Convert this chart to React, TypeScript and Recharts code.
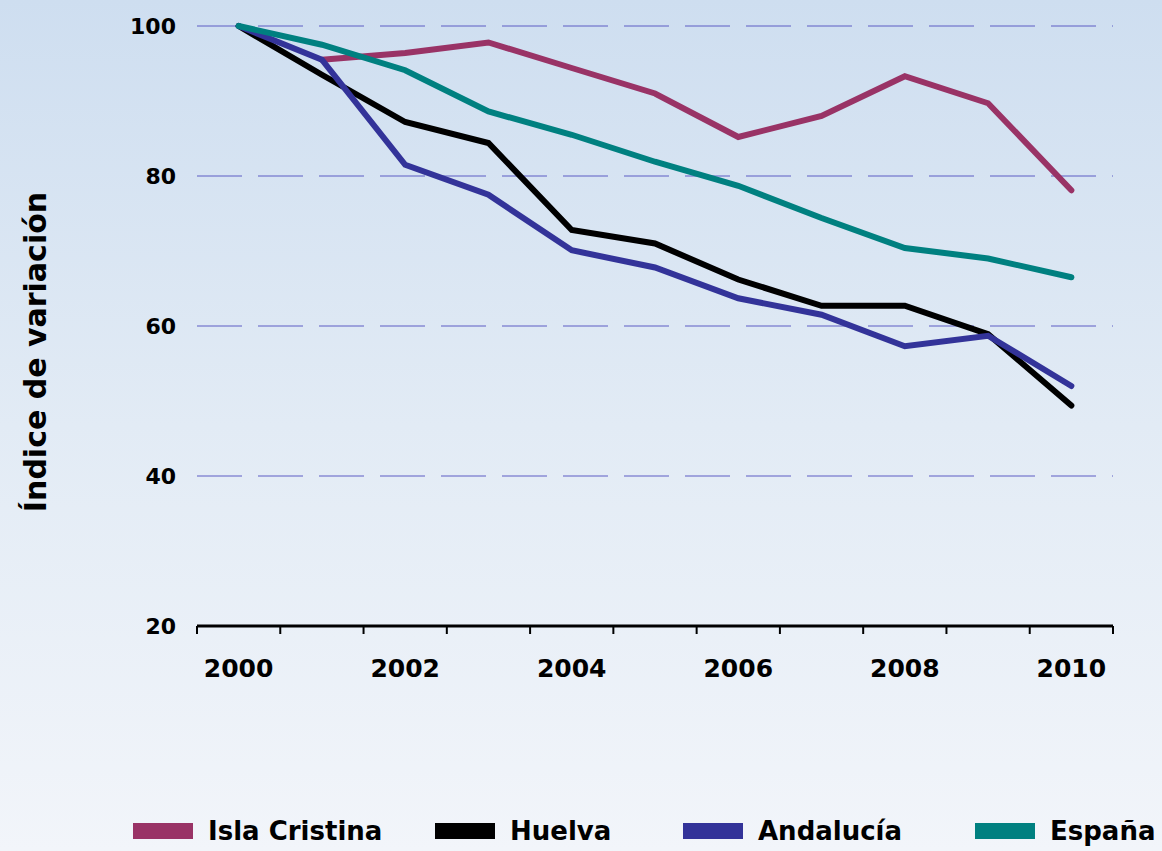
import { LineChart, Line, XAxis, YAxis, CartesianGrid, Legend } from "recharts";

const years = [2000, 2001, 2002, 2003, 2004, 2005, 2006, 2007, 2008, 2009, 2010];
const islaCristina = [null, 95.5, 96.4, 97.8, 94.4, 91.0, 85.2, 88.0, 93.3, 89.7, 78.1];
const huelva = [100, 93.5, 87.2, 84.4, 72.8, 71.0, 66.2, 62.7, 62.7, 58.9, 49.4];
const andalucia = [100, 95.5, 81.5, 77.5, 70.1, 67.8, 63.7, 61.5, 57.3, 58.7, 52.0];
const espana = [100, 97.5, 94.1, 88.6, 85.5, 81.9, 78.7, 74.4, 70.4, 69.0, 66.5];

const yTicks = [20, 40, 60, 80, 100];
const labelYears = [2000, 2002, 2004, 2006, 2008, 2010];
const boundaryTicks = [...years.map((y) => y - 0.5), 2010.5];

const series = [
  { key: "isla", name: "Isla Cristina", color: "#993366", values: islaCristina },
  { key: "huelva", name: "Huelva", color: "#000000", values: huelva },
  { key: "andalucia", name: "Andalucía", color: "#333399", values: andalucia },
  { key: "espana", name: "España", color: "#008080", values: espana },
];

const data = years.map((year, i) => {
  const row: Record<string, number | null> = { year };
  series.forEach((s) => (row[s.key] = s.values[i]));
  return row;
});

const font = "'DejaVu Sans', sans-serif";
const legendWidths = [302, 248, 292, 187];

function ChartLegend() {
  return (
    <div style={{ display: "flex", paddingLeft: 133, height: 40, alignItems: "center", width: 1162, boxSizing: "border-box" }}>
      {series.map((s, i) => (
        <div key={s.key} style={{ width: legendWidths[i], flexShrink: 0, display: "flex", alignItems: "center" }}>
          <span style={{ width: 60, height: 16, background: s.color, display: "inline-block", marginRight: 15, flexShrink: 0 }} />
          <span style={{ fontFamily: font, fontWeight: "bold", fontSize: 26, color: "#000", whiteSpace: "nowrap" }}>
            {s.name}
          </span>
        </div>
      ))}
    </div>
  );
}

export default function App() {
  return (
    <div
      style={{
        position: "absolute",
        left: 0,
        top: 0,
        width: 1162,
        height: 851,
        overflow: "hidden",
        background: "linear-gradient(to bottom, #cedef0 0%, #e2ebf5 50%, #f2f5fa 100%)",
      }}
    >
      <LineChart width={1162} height={851} data={data} margin={{ top: 26, right: 49, left: 0, bottom: 0 }}>
        <CartesianGrid xAxisId="a" vertical={false} stroke="#5c5cc4" strokeDasharray="45 16" />
        <XAxis
          xAxisId="a"
          dataKey="year"
          type="number"
          domain={[1999.5, 2010.5]}
          ticks={boundaryTicks}
          interval={0}
          tickFormatter={() => ""}
          height={10}
          tickSize={8}
          axisLine={{ stroke: "#000", strokeWidth: 3 }}
          tickLine={{ stroke: "#000", strokeWidth: 2 }}
        />
        <XAxis
          xAxisId="b"
          dataKey="year"
          type="number"
          domain={[1999.5, 2010.5]}
          ticks={labelYears}
          interval={0}
          height={175}
          tickSize={0}
          tickMargin={23}
          axisLine={false}
          tickLine={false}
          tick={{ fill: "#000", fontFamily: font, fontWeight: "bold", fontSize: 25 }}
        />
        <YAxis
          domain={[20, 100]}
          ticks={yTicks}
          interval={0}
          width={197}
          tickSize={0}
          tickMargin={21}
          axisLine={false}
          tickLine={false}
          tick={{ fill: "#000", fontFamily: font, fontWeight: "bold", fontSize: 22 }}
          label={() => (
            <text
              x={35}
              y={352}
              transform="rotate(-90, 35, 352)"
              textAnchor="middle"
              dominantBaseline="central"
              fontFamily={font}
              fontWeight="bold"
              fontSize={30}
              fill="#000"
            >
              Índice de variación
            </text>
          )}
        />
        {series.map((s) => (
          <Line
            key={s.key}
            xAxisId="a"
            type="linear"
            dataKey={s.key}
            name={s.name}
            stroke={s.color}
            strokeWidth={6}
            strokeLinecap="round"
            dot={false}
            activeDot={false}
            isAnimationActive={false}
          />
        ))}
        <Legend
          verticalAlign="bottom"
          wrapperStyle={{ left: 0, width: 1162 }}
          content={() => <ChartLegend />}
        />
      </LineChart>
    </div>
  );
}
